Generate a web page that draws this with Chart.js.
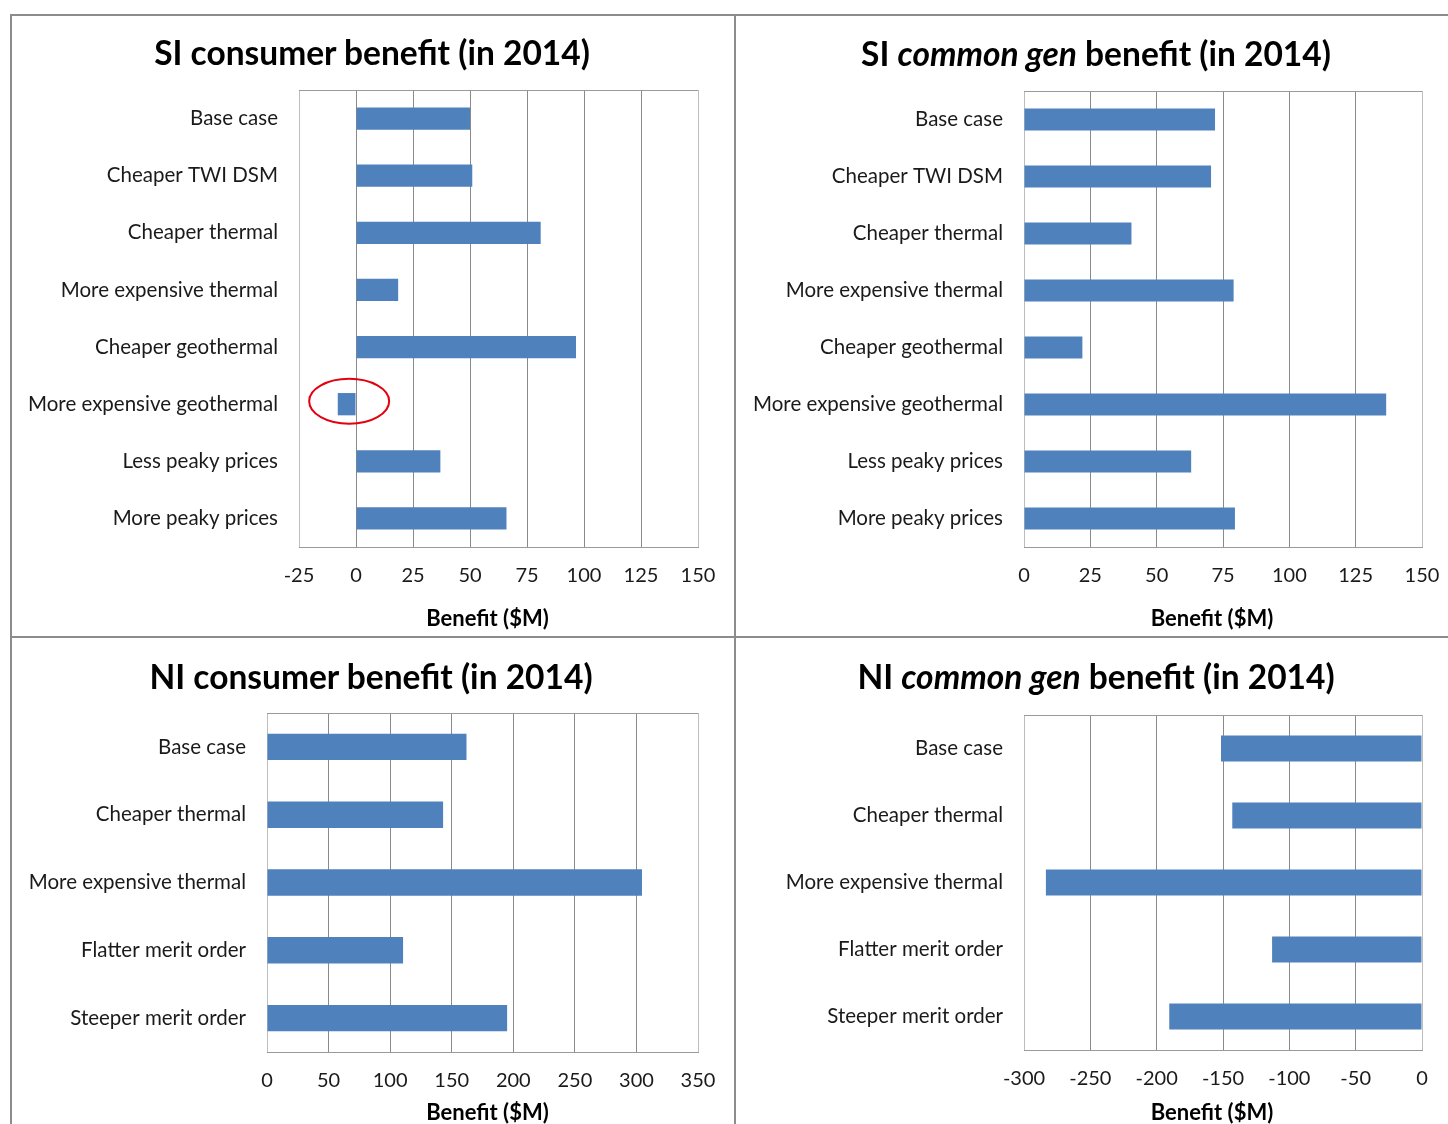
<!DOCTYPE html>
<html>
<head>
<meta charset="utf-8">
<script src="https://cdn.jsdelivr.net/npm/chart.js@4"></script>
<style>
body { margin: 0; width: 1448px; height: 1124px; overflow: hidden; background: #fff; position: relative; font-family: Lato, sans-serif; }
.frame { position: absolute; border: 2px solid #8c8c8c; box-sizing: border-box; }
.title { position: absolute; font-weight: bold; font-size: 33.5px; white-space: nowrap; transform: translate(-50%, -50%); color: #000; }
canvas { position: absolute; }
</style>
</head>
<body>
<div class="frame" style="left:10px;top:14px;width:726px;height:624px"></div>
<div class="frame" style="left:734px;top:14px;width:730px;height:624px"></div>
<div class="frame" style="left:10px;top:636px;width:726px;height:520px"></div>
<div class="frame" style="left:734px;top:636px;width:730px;height:520px"></div>

<canvas id="c1"></canvas>
<canvas id="c2"></canvas>
<canvas id="c3"></canvas>
<canvas id="c4"></canvas>

<div class="title" style="left:372px;top:52px">SI consumer benefit (in 2014)</div>
<div class="title" style="left:1096px;top:53px">SI <i>common gen</i> benefit (in 2014)</div>
<div class="title" style="left:371px;top:676px">NI consumer benefit (in 2014)</div>
<div class="title" style="left:1096px;top:676px">NI <i>common gen</i> benefit (in 2014)</div>

<script>
// values, $M
const siCases = ["Base case", "Cheaper TWI DSM", "Cheaper thermal", "More expensive thermal",
    "Cheaper geothermal", "More expensive geothermal", "Less peaky prices", "More peaky prices"];
const siConsumer = [50, 51, 81, 18.5, 96.5, -8, 37, 66];
const siCommonGen = [72, 70.5, 40.5, 79, 22, 136.5, 63, 79.5];

const niCases = ["Base case", "Cheaper thermal", "More expensive thermal", "Flatter merit order", "Steeper merit order"];
const niConsumer = [162, 143, 304.5, 110.5, 195];
const niCommonGen = [-151.5, -143, -283.5, -113, -190.5];

// axis ranges [min, max, step]
const siConsumerAxis = [-25, 150, 25];
const siCommonGenAxis = [0, 150, 25];
const niConsumerAxis = [0, 350, 50];
const niCommonGenAxis = [-300, 0, 50];

const axisTitle = "Benefit ($M)";

const barColor = "#4F81BD";
const textColor = "#1a1a1a";
const labelFont = { family: "Lato", size: 20.5 };
const tickFont = { family: "Lato", size: 20 };

// top edge of the plot box
const topLine = {
    id: "topLine",
    beforeDatasetsDraw(chart) {
        const { ctx, chartArea: a } = chart;
        ctx.save();
        ctx.strokeStyle = "#9a9a9a";
        ctx.lineWidth = 1;
        ctx.beginPath();
        ctx.moveTo(a.left, a.top + 0.5);
        ctx.lineTo(a.right, a.top + 0.5);
        ctx.stroke();
        ctx.restore();
    },
};

// x axis title, Excel puts it a bit off the plot centre
const xTitle = {
    id: "xTitle",
    afterDraw(chart, args, opts) {
        const { ctx, chartArea: a } = chart;
        ctx.save();
        ctx.font = "bold 22px Lato";
        ctx.fillStyle = "#000";
        ctx.textAlign = "center";
        ctx.textBaseline = "middle";
        ctx.fillText(axisTitle, (a.left + a.right) / 2 + opts.dx, a.bottom + opts.dy);
        ctx.restore();
    },
};

// red ring around the one negative bar
const ring = {
    id: "ring",
    afterDatasetsDraw(chart, args, opts) {
        if (!opts.show) return;
        const { ctx, scales } = chart;
        const cx = scales.x.getPixelForValue(-3);
        const cy = scales.y.getPixelForValue(5) - 3;
        ctx.save();
        ctx.strokeStyle = "#e3000f";
        ctx.lineWidth = 2;
        ctx.beginPath();
        ctx.ellipse(cx, cy, 40, 22.5, 0, 0, Math.PI * 2);
        ctx.stroke();
        ctx.restore();
    },
};

function makeChart(id, box, plot, labels, values, axis, showRing) {
    const cv = document.getElementById(id);
    cv.width = box.w;
    cv.height = box.h;
    cv.style.left = box.x + "px";
    cv.style.top = box.y + "px";

    const [min, max, step] = axis;
    const nTicks = (max - min) / step + 1;

    return new Chart(cv, {
        type: "bar",
        data: {
            labels: labels,
            datasets: [{
                data: values,
                backgroundColor: barColor,
                barPercentage: 0.39,
                categoryPercentage: 1,
            }],
        },
        options: {
            indexAxis: "y",
            responsive: false,
            animation: false,
            layout: {
                padding: { top: plot.t - box.y, right: box.x + box.w - plot.r, left: 0, bottom: 0 },
            },
            plugins: {
                legend: { display: false },
                tooltip: { enabled: false },
                xTitle: { dx: plot.dx, dy: plot.title },
                ring: { show: !!showRing },
            },
            scales: {
                x: {
                    min: min,
                    max: max,
                    ticks: { stepSize: step, padding: 17, font: tickFont, color: textColor },
                    grid: {
                        drawTicks: false,
                        color: (c) => (c.index === 0 || c.index === nTicks - 1) ? "#bdbdbd" : "#8a8a8a",
                    },
                    border: { display: true, color: "#9a9a9a" },
                    afterFit: (s) => { s.height = box.y + box.h - plot.b; },
                },
                y: {
                    grid: { display: false, drawTicks: false },
                    border: { display: false },
                    ticks: { padding: 21, font: labelFont, color: textColor },
                    afterFit: (s) => { s.width = plot.l - box.x; },
                },
            },
        },
        plugins: [topLine, xTitle, ring],
    });
}

makeChart("c1", { x: 10, y: 14, w: 724, h: 622 }, { l: 299, t: 90, r: 698, b: 547, title: 72, dx: -11 },
    siCases, siConsumer, siConsumerAxis, true);
makeChart("c2", { x: 736, y: 14, w: 760, h: 622 }, { l: 1024, t: 91, r: 1422, b: 547, title: 72, dx: -11 },
    siCases, siCommonGen, siCommonGenAxis);
makeChart("c3", { x: 10, y: 638, w: 724, h: 520 }, { l: 267, t: 713, r: 698, b: 1052, title: 61, dx: 5 },
    niCases, niConsumer, niConsumerAxis);
makeChart("c4", { x: 736, y: 638, w: 760, h: 520 }, { l: 1024, t: 715, r: 1422, b: 1050, title: 63, dx: -11 },
    niCases, niCommonGen, niCommonGenAxis);
</script>
</body>
</html>
